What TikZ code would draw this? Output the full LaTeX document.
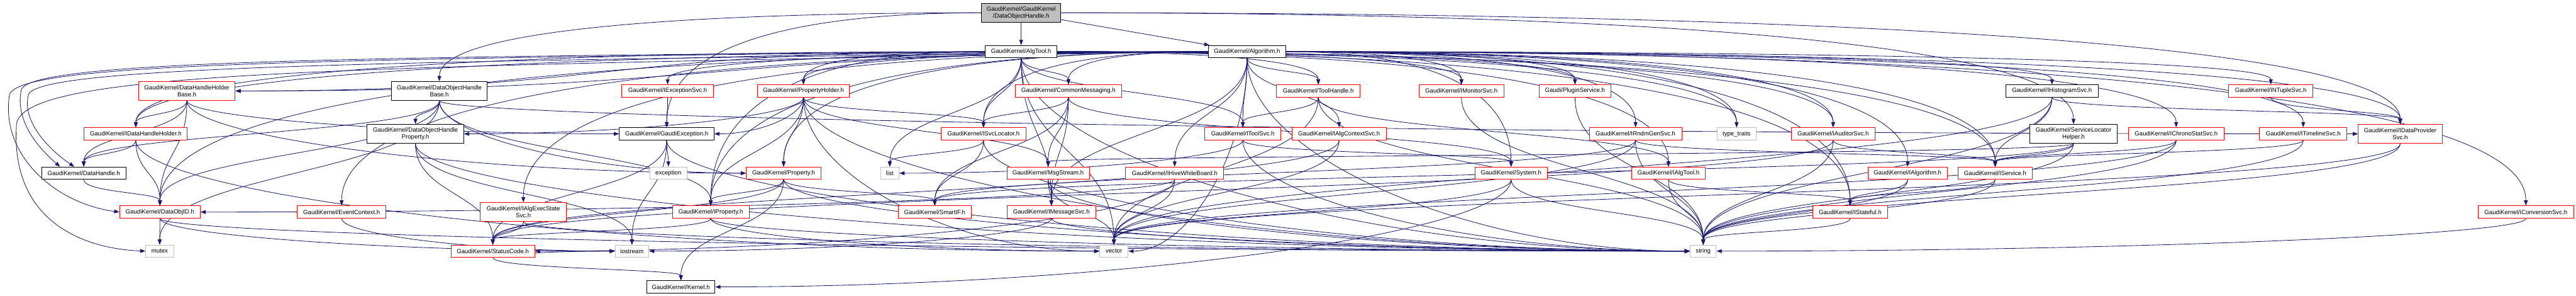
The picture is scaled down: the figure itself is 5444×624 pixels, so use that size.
\documentclass[tikz,border=0pt]{standalone}
\usepackage{fontspec}
\setmainfont{Liberation Sans}
\usetikzlibrary{arrows.meta,calc}
\definecolor{edgeblue}{HTML}{191970}
\definecolor{boxred}{HTML}{FF0000}
\definecolor{boxgray}{HTML}{BFBFBF}
\pgfdeclarelayer{bg}
\pgfsetlayers{bg,main}
\tikzset{
 box/.style={draw, line width=1.3pt, fill=white, inner sep=0pt, align=center, font=\fontsize{12.8}{14.7}\selectfont},
 redbox/.style={box, draw=boxred},
 blackbox/.style={box, draw=black},
 graybox/.style={box, draw=boxgray},
 rootbox/.style={box, draw=black, fill=boxgray},
 e/.style={draw=edgeblue, line width=1.1pt, -{Triangle[length=11pt,width=8pt]}},
}
\newcommand\nd[7]{\node[#1,minimum width={(#4-#3)*1pt},minimum height=#6pt] (#2) at ({(#3+#4)/2},{-#5}) {#7};}
\newcommand\Es[3][south]{\draw[e] let \p1=(#2.#1), \p2=(#3.north), \n1={0.5*(\y1-\y2)} in (\p1) .. controls +(0,-\n1) and +(0,\n1) .. (\p2);}
\newcommand\Eh[2]{\draw[e] let \p1=(#1), \p2=(#2.north), \n1={0.55*(\x2-\x1)}, \n2={0.75*(\y1-\y2)} in (\p1) .. controls +(\n1,0) and +(0,\n2) .. (\p2);}
\newcommand\Ehs[2]{\draw[e] let \p1=(#1), \p2=(#2), \n1={0.5*(\x2-\x1)} in (\p1) .. controls +(\n1,0) and +(-\n1,0) .. (\p2);}
\newcommand\Ei[3][south]{\draw[e] let \p1=(#2.#1), \p2=(#3), \n1={0.5*(\y1-\y2)}, \n2={-0.5*(\x2-\x1)} in (\p1) .. controls +(0,-\n1) and +(\n2,0) .. (\p2);}
\begin{document}
\begin{tikzpicture}[x=1pt,y=1pt]
\useasboundingbox (0,0) rectangle (5444,-624);
% level 0/1
\nd{rootbox}{root}{2074}{2242}{27}{40}{GaudiKernel/GaudiKernel\\/DataObjectHandle.h}
\nd{blackbox}{algtool}{2082}{2234}{109}{26}{GaudiKernel/AlgTool.h}
\nd{blackbox}{algorithm}{2554}{2717}{109}{26}{GaudiKernel/Algorithm.h}
% level 2
\nd{redbox}{dhhb}{293}{497}{192}{40}{GaudiKernel/DataHandleHolder\\Base.h}
\nd{blackbox}{dohb}{827}{1030}{192}{40}{GaudiKernel/DataObjectHandle\\Base.h}
\nd{redbox}{iexc}{1314}{1508}{192}{26}{GaudiKernel/IExceptionSvc.h}
\nd{redbox}{propholder}{1601}{1795}{192}{26}{GaudiKernel/PropertyHolder.h}
\nd{redbox}{commsg}{2146}{2370}{192}{26}{GaudiKernel/CommonMessaging.h}
\nd{redbox}{toolhandle}{2698}{2874}{192}{26}{GaudiKernel/ToolHandle.h}
\nd{redbox}{imonitor}{2999}{3178}{192}{26}{GaudiKernel/IMonitorSvc.h}
\nd{redbox}{plugin}{3253}{3404}{192}{26}{Gaudi/PluginService.h}
\nd{blackbox}{ihisto}{4239}{4434}{192}{26}{GaudiKernel/IHistogramSvc.h}
\nd{redbox}{intuple}{4710}{4888}{192}{26}{GaudiKernel/INTupleSvc.h}
% level 3
\nd{redbox}{idhh}{178}{396}{282.5}{26}{GaudiKernel/IDataHandleHolder.h}
\nd{blackbox}{dohp}{776}{980}{282.5}{40}{GaudiKernel/DataObjectHandle\\Property.h}
\nd{blackbox}{gexc}{1309}{1509}{282.5}{26}{GaudiKernel/GaudiException.h}
\nd{redbox}{isvcloc}{1989}{2168}{282.5}{26}{GaudiKernel/ISvcLocator.h}
\nd{redbox}{itoolsvc}{2546}{2707}{282.5}{26}{GaudiKernel/IToolSvc.h}
\nd{redbox}{ialgctx}{2730}{2930}{282.5}{26}{GaudiKernel/IAlgContextSvc.h}
\nd{redbox}{irndm}{3359}{3554}{282.5}{26}{GaudiKernel/IRndmGenSvc.h}
\nd{graybox}{typetraits}{3629}{3711}{282.5}{26}{type\_traits}
\nd{redbox}{iauditor}{3786}{3962}{282.5}{26}{GaudiKernel/IAuditorSvc.h}
\nd{blackbox}{slh}{4290}{4474}{282.5}{40}{GaudiKernel/ServiceLocator\\Helper.h}
\nd{redbox}{ichrono}{4498}{4700}{282.5}{26}{GaudiKernel/IChronoStatSvc.h}
\nd{redbox}{itimeline}{4775}{4960}{282.5}{26}{GaudiKernel/ITimelineSvc.h}
\nd{redbox}{idp}{4984}{5161}{282.5}{40}{GaudiKernel/IDataProvider\\Svc.h}
% level 4
\nd{blackbox}{datahandle}{88}{266}{365.5}{26}{GaudiKernel/DataHandle.h}
\nd{graybox}{exception}{1373}{1452}{365.5}{26}{exception}
\nd{redbox}{property}{1577}{1735}{365.5}{26}{GaudiKernel/Property.h}
\nd{graybox}{list}{1861}{1900}{365.5}{26}{list}
\nd{redbox}{msgstream}{2128}{2302}{365.5}{26}{GaudiKernel/MsgStream.h}
\nd{redbox}{ihive}{2379}{2586}{365.5}{26}{GaudiKernel/IHiveWhiteBoard.h}
\nd{redbox}{system}{3117}{3270}{365.5}{26}{GaudiKernel/System.h}
\nd{redbox}{ialgtool}{3448}{3604}{365.5}{26}{GaudiKernel/IAlgTool.h}
\nd{redbox}{ialgorithm}{3948}{4115}{365.5}{26}{GaudiKernel/IAlgorithm.h}
\nd{redbox}{iservice}{4138}{4295}{365.5}{26}{GaudiKernel/IService.h}
% level 5
\nd{redbox}{dataobjid}{253}{423}{447.5}{26}{GaudiKernel/DataObjID.h}
\nd{redbox}{eventctx}{628}{816}{447.5}{26}{GaudiKernel/EventContext.h}
\nd{redbox}{iaes}{1015}{1197}{447.5}{40}{GaudiKernel/IAlgExecState\\Svc.h}
\nd{redbox}{iproperty}{1421}{1583}{447.5}{26}{GaudiKernel/IProperty.h}
\nd{redbox}{smartif}{1898}{2053}{447.5}{26}{GaudiKernel/SmartIF.h}
\nd{redbox}{imsgsvc}{2128}{2316}{447.5}{26}{GaudiKernel/IMessageSvc.h}
\nd{redbox}{istateful}{3831}{3989}{447.5}{26}{GaudiKernel/IStateful.h}
\nd{redbox}{iconv}{5237}{5439}{447.5}{26}{GaudiKernel/IConversionSvc.h}
% level 6/7
\nd{graybox}{mutex}{308}{367}{530}{26}{mutex}
\nd{redbox}{statuscode}{953}{1130}{530}{26}{GaudiKernel/StatusCode.h}
\nd{graybox}{iostream}{1300}{1371}{530}{26}{iostream}
\nd{graybox}{vector}{2324}{2384}{530}{26}{vector}
\nd{graybox}{string}{3572}{3627}{530}{26}{string}
\nd{blackbox}{kernel}{1367}{1511}{605.5}{26}{GaudiKernel/Kernel.h}
\begin{pgfonlayer}{bg}
\fill[white] (0,0) rectangle (5444,-624);
% root
\Es{root}{algtool}
\draw[e] (root) -- (algorithm);
\Eh{root.west}{dohb}
\Eh{root.west}{gexc}
\Eh{root.east}{slh}
\Eh{root.east}{idp}
% AlgTool
\Es{algtool}{commsg}
\Es{algtool}{isvcloc}
\Es{algtool}{list}
\Es{algtool}{imsgsvc}
\Es{algtool}{itoolsvc}
\Es{algtool}{vector}
\Eh{algtool.west}{propholder}
\Ehs{algtool.west}{dhhb.east}
\Eh{algtool.west}{idhh}
\draw[e] (algtool.west) .. controls (700,-120) and (60,-130) .. (45,-190) .. controls (30,-260) and (90,-320) .. ([xshift=-50pt]datahandle.north);
\draw[e] (algtool.west) .. controls (600,-125) and (40,-135) .. (20,-200) .. controls (0,-330) and (120,-430) .. (dataobjid.west);
\Eh{algtool.west}{iproperty}
\Eh{algtool.east}{toolhandle}
\Eh{algtool.east}{imonitor}
\Eh{algtool.east}{plugin}
\Eh{algtool.east}{iauditor}
\Eh{algtool.east}{ialgtool}
\Eh{algtool.east}{iservice}
\Eh{algtool.east}{istateful}
\Eh{algtool.east}{typetraits}
\Ei{algtool}{string.west}
% Algorithm
\Es{algorithm}{toolhandle}
\Es{algorithm}{itoolsvc}
\Es{algorithm}{ialgctx}
\Es{algorithm}{ihive}
\Es{algorithm}{imsgsvc}
\Eh{algorithm.west}{commsg}
\Eh{algorithm.west}{isvcloc}
\Eh{algorithm.west}{propholder}
\Eh{algorithm.west}{iexc}
\Eh{algorithm.west}{property}
\Ehs{algorithm.west}{dhhb.east}
\Eh{algorithm.west}{idhh}
\draw[e] (algorithm.west) .. controls (800,-128) and (80,-140) .. (60,-200) .. controls (45,-260) and (110,-320) .. ([xshift=-20pt]datahandle.north);
\draw[e] (algorithm.west) .. controls (700,-140) and (60,-150) .. (35,-260) .. controls (20,-470) and (180,-525) .. (mutex.west);
\Eh{algorithm.west}{dataobjid}
\Eh{algorithm.west}{eventctx}
\Eh{algorithm.west}{iaes}
\Eh{algorithm.west}{iproperty}
\Eh{algorithm.east}{system}
\Eh{algorithm.east}{imonitor}
\Eh{algorithm.east}{plugin}
\Eh{algorithm.east}{irndm}
\Eh{algorithm.east}{iauditor}
\Eh{algorithm.east}{ialgorithm}
\Eh{algorithm.east}{iservice}
\Eh{algorithm.east}{istateful}
\Eh{algorithm.east}{ihisto}
\Eh{algorithm.east}{intuple}
\Eh{algorithm.east}{ichrono}
\Eh{algorithm.east}{itimeline}
\Eh{algorithm.east}{idp}
\Eh{algorithm.east}{iconv}
\Eh{algorithm.east}{typetraits}
\Ei{algorithm}{vector.east}
\Ei{algorithm}{string.west}
% left cluster
\Es{dhhb}{idhh}
\Es{dhhb}{datahandle}
\Es{dhhb}{dataobjid}
\Ei{dhhb}{gexc.west}
\Ei{dhhb}{property.west}
\Es{idhh}{datahandle}
\Es{idhh}{dataobjid}
\Ei{idhh}{vector.west}
\Es{datahandle}{dataobjid}
\Es{dataobjid}{mutex}
\Ei{dataobjid}{iostream.west}
\Ei{dataobjid}{string.west}
\Es{dohb}{dohp}
\Es{dohb}{datahandle}
\Es{dohb}{dataobjid}
\Es{dohb}{mutex}
\Ei{dohb}{idp.west}
\Ei{dohb}{property.west}
\Es{dohb}{iproperty}
\Es{dohp}{statuscode}
\Es{dohp}{iostream}
\Ei{dohp}{string.west}
\Ei{propholder}{dohp.east}
\Es{propholder}{property}
\Es{propholder}{iproperty}
\Es{propholder}{isvcloc}
\Ei{propholder}{string.west}
\Ei{propholder}{vector.west}
\Es{propholder}{msgstream}
\Ei{propholder}{gexc.east}
\Es{iexc}{gexc}
\Es{gexc}{exception}
\Es{gexc}{statuscode}
\Es{gexc}{iostream}
\Ei{gexc}{string.west}
\Es{property}{iproperty}
\Es{property}{kernel}
\Es{property}{smartif}
\Ei{property}{string.west}
\Es{property}{statuscode}
\Es{iproperty}{statuscode}
\Ei{iproperty}{string.west}
\Ei{iproperty}{vector.west}
\Es{iaes}{statuscode}
\Ei{iaes}{string.west}
\Ei{eventctx}{iostream.west}
\Es{statuscode}{kernel}
\Ei{statuscode}{iostream.west}
% middle cluster
\Es{commsg}{isvcloc}
\Es{commsg}{imsgsvc}
\Es{commsg}{msgstream}
\Es{commsg}{smartif}
\Es{commsg}{system}
\Es{isvcloc}{list}
\Es{isvcloc}{smartif}
\Ei{isvcloc}{string.west}
\Es{msgstream}{imsgsvc}
\Es{msgstream}{vector}
\Ei{msgstream}{string.west}
\Ei{imsgsvc}{string.west}
\Ei{imsgsvc}{iostream.east}
\Ei{ihive}{dataobjid.east}
\Ei{ihive}{statuscode.east}
\Es{ihive}{vector}
\Ei{itoolsvc}{list.east}
\Ei{itoolsvc}{string.west}
\Es{itoolsvc}{system}
\Es{toolhandle}{itoolsvc}
\Es{toolhandle}{ialgtool}
\Es{toolhandle}{string}
\Es{toolhandle}{vector}
\Es{imonitor}{string}
\Es{plugin}{string}
\Es{ialgctx}{vector}
\Es{ialgctx}{statuscode}
\Es{system}{string}
\Es{system}{vector}
\Ei{system}{kernel.east}
% right cluster
\Es{irndm}{string}
\Es{irndm}{vector}
\Es{irndm}{iservice}
\Es{irndm}{smartif}
\Es{iauditor}{iservice}
\Es{iauditor}{string}
\Es{iauditor}{statuscode}
\Es{ialgtool}{string}
\Es{ialgtool}{istateful}
\Es{ialgorithm}{istateful}
\Es{ialgorithm}{string}
\Es{istateful}{string}
\Es{ihisto}{iservice}
\Es{ihisto}{idp}
\Es{ihisto}{string}
\Es{ihisto}{vector}
\Es{slh}{iservice}
\Es{slh}{msgstream}
\Es{slh}{smartif}
\Es{slh}{string}
\Es{ichrono}{iservice}
\Es{ichrono}{string}
\Es{ichrono}{vector}
\Es{itimeline}{iservice}
\Es{itimeline}{string}
\Es{intuple}{idp}
\Es{idp}{string}
\Es{idp}{vector}
\Ei{iconv}{string.east}
\Es{iservice}{istateful}
\Es{iservice}{string}
\end{pgfonlayer}
\end{tikzpicture}
\end{document}
